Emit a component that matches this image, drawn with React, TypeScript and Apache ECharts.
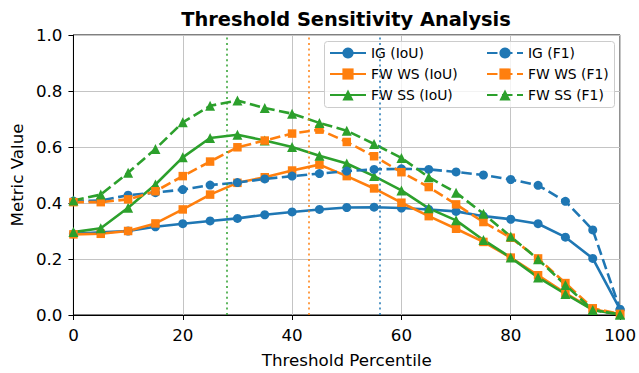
import React, { useEffect, useRef } from "react";
import * as echarts from "echarts";

const thresholds = [0, 5, 10, 15, 20, 25, 30, 35, 40, 45, 50, 55, 60, 65, 70, 75, 80, 85, 90, 95, 100];

const igIoU = [0.29, 0.295, 0.3, 0.315, 0.326, 0.336, 0.345, 0.358, 0.368, 0.377, 0.384, 0.385, 0.382, 0.377, 0.37, 0.353, 0.342, 0.326, 0.278, 0.202, 0.02];
const fwwsIoU = [0.288, 0.29, 0.3, 0.327, 0.377, 0.43, 0.472, 0.492, 0.516, 0.537, 0.496, 0.452, 0.401, 0.353, 0.308, 0.261, 0.205, 0.142, 0.078, 0.02, 0.003];
const fwssIoU = [0.296, 0.31, 0.383, 0.466, 0.563, 0.632, 0.644, 0.623, 0.6, 0.569, 0.541, 0.496, 0.445, 0.381, 0.338, 0.268, 0.205, 0.134, 0.075, 0.018, 0.002];
const igF1 = [0.407, 0.409, 0.428, 0.437, 0.448, 0.464, 0.473, 0.486, 0.496, 0.505, 0.514, 0.52, 0.522, 0.52, 0.511, 0.5, 0.484, 0.463, 0.406, 0.304, 0.02];
const fwwsF1 = [0.403, 0.403, 0.413, 0.442, 0.496, 0.548, 0.599, 0.623, 0.648, 0.662, 0.618, 0.567, 0.51, 0.457, 0.395, 0.332, 0.276, 0.202, 0.114, 0.024, 0.004];
const fwssF1 = [0.409, 0.43, 0.508, 0.593, 0.688, 0.747, 0.766, 0.739, 0.719, 0.686, 0.658, 0.611, 0.561, 0.492, 0.437, 0.362, 0.28, 0.199, 0.107, 0.018, 0.002];

const optimalThresholds = [
  { name: "FW SS", value: 28 },
  { name: "FW WS", value: 43 },
  { name: "IG", value: 56 },
];

const xTicks = [0, 20, 40, 60, 80, 100];
const yTicks = [0, 0.2, 0.4, 0.6, 0.8, 1.0];

const BLUE = "#1f77b4";
const ORANGE = "#ff7f0e";
const GREEN = "#2ca02c";
const FONT = "DejaVu Sans";

export default function App() {
  const ref = useRef<HTMLDivElement>(null);
  useEffect(() => {
    if (!ref.current) return;
    const chart = echarts.init(ref.current, undefined, { renderer: "svg" });
    const pair = (arr: number[]) => thresholds.map((t, i) => [t, arr[i]]);
    const dash = [10.5, 4.5];
    const mk = (
      name: string,
      data: number[],
      color: string,
      symbol: string,
      size: number,
      dashed: boolean
    ) => ({
      name,
      type: "line",
      data: pair(data),
      symbol,
      symbolSize: size,
      showAllSymbol: true,
      clip: true,
      lineStyle: { color, width: 2.6, type: dashed ? dash : "solid" },
      itemStyle: { color, borderWidth: 0 },
      emphasis: { disabled: true },
    });
    const colorMap: Record<string, string> = { "FW SS": GREEN, "FW WS": ORANGE, IG: BLUE };
    const series: any[] = [
      mk("IG (IoU)", igIoU, BLUE, "circle", 9, false),
      mk("FW WS (IoU)", fwwsIoU, ORANGE, "rect", 8.5, false),
      mk("FW SS (IoU)", fwssIoU, GREEN, "triangle", 10, false),
      mk("IG (F1)", igF1, BLUE, "circle", 9, true),
      mk("FW WS (F1)", fwwsF1, ORANGE, "rect", 8.5, true),
      mk("FW SS (F1)", fwssF1, GREEN, "triangle", 10, true),
    ];
    series[0].markLine = {
      silent: true,
      symbol: "none",
      label: { show: false },
      animation: false,
      data: optimalThresholds.map((o) => ({
        xAxis: o.value,
        lineStyle: { color: colorMap[o.name], width: 1.5, type: [2, 3.4], opacity: 1 },
      })),
    };
    const legendCommon = {
      orient: "vertical",
      itemWidth: 36,
      itemHeight: 14,
      itemGap: 7,
      padding: 0,
      textStyle: { fontFamily: FONT, fontSize: 13.9, color: "#000" },
      selectedMode: false,
    };
    chart.setOption({
      animation: false,
      backgroundColor: "#fff",
      title: {
        text: "Threshold Sensitivity Analysis",
        left: 341,
        textAlign: "center",
        top: 5,
        textStyle: { fontFamily: FONT, fontSize: 19.4, fontWeight: "bold", color: "#000" },
      },
      grid: {
        left: 72,
        right: 15,
        top: 35,
        bottom: 57,
        show: true,
        borderColor: "#000",
        borderWidth: 1,
        backgroundColor: "transparent",
      },
      legend: [
        { ...legendCommon, left: 329, top: 46, data: ["IG (IoU)", "FW WS (IoU)", "FW SS (IoU)"] },
        { ...legendCommon, left: 486, top: 46, data: ["IG (F1)", "FW WS (F1)", "FW SS (F1)"] },
      ],
      graphic: [
        {
          type: "rect",
          shape: { x: 324.5, y: 41.5, width: 290, height: 66, r: 3 },
          style: { fill: "rgba(255,255,255,0.8)", stroke: "#cccccc", lineWidth: 1 },
          z: 4,
        },
      ],
      xAxis: {
        type: "value",
        min: 0,
        max: 100,
        interval: 20,
        name: "Threshold Percentile",
        nameLocation: "middle",
        nameGap: 36,
        nameTextStyle: { fontFamily: FONT, fontSize: 16.7, color: "#000" },
        axisLine: { show: true, lineStyle: { color: "#000", width: 1 } },
        axisTick: { show: true, length: 5, lineStyle: { color: "#000" } },
        axisLabel: {
          fontFamily: FONT,
          fontSize: 16.7,
          color: "#000",
          margin: 11,
          formatter: (v: number) => (xTicks.includes(v) ? String(v) : ""),
        },
        splitLine: { show: true, lineStyle: { color: "#c4c4c4", width: 1 } },
      },
      yAxis: {
        type: "value",
        min: 0,
        max: 1,
        interval: 0.2,
        name: "Metric Value",
        nameLocation: "middle",
        nameGap: 40,
        nameTextStyle: { fontFamily: FONT, fontSize: 16.7, color: "#000" },
        axisLine: { show: true, lineStyle: { color: "#000", width: 1 } },
        axisTick: { show: true, length: 5, lineStyle: { color: "#000" } },
        axisLabel: {
          fontFamily: FONT,
          fontSize: 16.7,
          color: "#000",
          margin: 11,
          formatter: (v: number) => (yTicks.some((t) => Math.abs(t - v) < 1e-9) ? v.toFixed(1) : ""),
        },
        splitLine: { show: true, lineStyle: { color: "#c4c4c4", width: 1 } },
      },
      series,
    });
    return () => chart.dispose();
  }, []);
  return <div ref={ref} style={{ width: 639, height: 373, position: "absolute", left: 0, top: 0 }} />;
}
